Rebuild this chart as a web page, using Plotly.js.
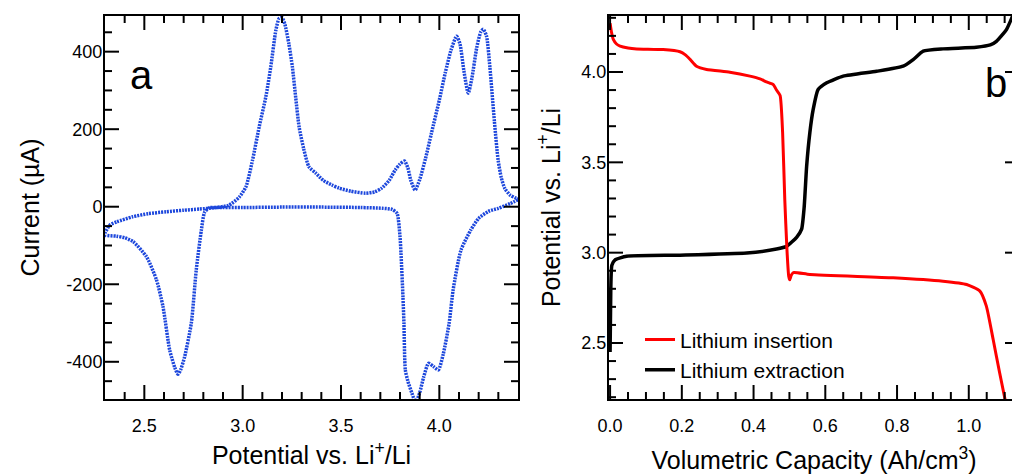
<!DOCTYPE html>
<html>
<head>
<meta charset="utf-8">
<script src="https://cdn.plot.ly/plotly-3.0.1.min.js"></script>
<style>
html, body { margin: 0; padding: 0; overflow: hidden; background: #fff; }
#chart { width: 1030px; height: 475px; }
</style>
</head>
<body>
<div id="chart"></div>
<script>
// Panel a: cyclic voltammogram (one loop: cathodic sweep 4.4 -> 2.3, then anodic 2.3 -> 4.4)
const cvPotential = [
  4.40, 4.36, 4.30, 4.25, 4.20, 4.16, 4.11, 4.07, 4.05, 4.02, 3.995, 3.97, 3.945, 3.92, 3.90, 3.88,
  3.86, 3.84, 3.827, 3.82, 3.815, 3.805, 3.80, 3.785, 3.76, 3.71, 3.60, 3.40, 3.20, 3.00, 2.90, 2.83,
  2.806, 2.79, 2.764, 2.739, 2.705, 2.685, 2.671, 2.655, 2.629, 2.595, 2.562, 2.511, 2.443, 2.40, 2.359, 2.30,
  2.30, 2.325, 2.36, 2.44, 2.52, 2.61, 2.70, 2.78, 2.85, 2.93, 2.983, 3.017, 3.05, 3.084, 3.118, 3.143,
  3.169, 3.185, 3.20, 3.215, 3.235, 3.253, 3.27, 3.287, 3.31, 3.337, 3.371, 3.41, 3.454, 3.49, 3.55, 3.624,
  3.67, 3.707, 3.745, 3.776, 3.80, 3.823, 3.84, 3.855, 3.877, 3.90, 3.93, 3.96, 4.00, 4.03, 4.06, 4.088,
  4.105, 4.125, 4.147, 4.165, 4.19, 4.21, 4.223, 4.24, 4.257, 4.28, 4.299, 4.315, 4.333, 4.36, 4.39, 4.40
];
const cvCurrent = [
  18, 8, -4, -12, -30, -60, -112, -215, -300, -380, -421, -412, -404, -440, -480, -505,
  -480, -450, -421, -300, -232, -120, -77, -17, -7, -4, -2, -1, -1, -2, -2, -3,
  -15, -60, -163, -300, -387, -420, -432, -415, -370, -258, -189, -129, -90, -80, -76, -73,
  -68, -47, -39, -26, -18, -13, -9, -6, -3, 4, 25, 52, 120, 206, 284, 361,
  456, 485, 488, 470, 420, 360, 280, 206, 150, 103, 87, 68, 56, 48, 40, 35,
  38, 48, 68, 95, 110, 118, 100, 68, 43, 70, 125, 190, 275, 345, 405, 440,
  420, 350, 293, 330, 410, 450, 458, 440, 360, 220, 120, 75, 47, 30, 22, 20
];

// Panel b: potential vs volumetric capacity
const insertionCapacity = [
  0.000, 0.004, 0.009, 0.018, 0.028, 0.050, 0.074, 0.148, 0.195, 0.210, 0.223, 0.241, 0.269, 0.334, 0.390, 0.418,
  0.436, 0.455, 0.464, 0.474, 0.481, 0.487, 0.493, 0.498, 0.501, 0.505, 0.511, 0.557, 0.789, 0.928, 0.994, 1.031,
  1.049, 1.068, 1.086, 1.105
];
const insertionPotential = [
  4.27, 4.22, 4.18, 4.155, 4.143, 4.133, 4.128, 4.124, 4.112, 4.095, 4.07, 4.032, 4.014, 3.999, 3.977, 3.962,
  3.945, 3.93, 3.90, 3.87, 3.665, 3.295, 3.02, 2.87, 2.85, 2.875, 2.89, 2.879, 2.861, 2.842, 2.824, 2.787,
  2.704, 2.519, 2.335, 2.15
];
const extractionCapacity = [
  0.000, 0.002, 0.005, 0.014, 0.046, 0.195, 0.381, 0.464, 0.492, 0.520, 0.534, 0.541, 0.548, 0.557, 0.566, 0.580,
  0.604, 0.650, 0.743, 0.817, 0.845, 0.873, 0.928, 1.021, 1.060, 1.077, 1.095, 1.105, 1.120, 1.130
];
const extractionPotential = [
  2.45, 2.80, 2.93, 2.96, 2.98, 2.986, 2.998, 3.02, 3.035, 3.085, 3.13, 3.25, 3.479, 3.665, 3.79, 3.903,
  3.94, 3.977, 4.004, 4.032, 4.069, 4.115, 4.128, 4.137, 4.15, 4.17, 4.21, 4.235, 4.30, 4.35
];

// Tick labels
const potentialTicks = [2.5, 3.0, 3.5, 4.0];
const potentialLabels = ['2.5', '3.0', '3.5', '4.0'];
const currentTicks = [-400, -200, 0, 200, 400];
const currentLabels = ['-400', '-200', '0', '200', '400'];
const capacityTicks = [0.0, 0.2, 0.4, 0.6, 0.8, 1.0];
const capacityLabels = ['0.0', '0.2', '0.4', '0.6', '0.8', '1.0'];

const FONT = 'Arial, "Liberation Sans", Helvetica, sans-serif';
const W = 1030, H = 475, MT = 16, MB = 76;
const PLOT_H = H - MT - MB;
const domains = { x: [105 / W, 518 / W], x2: [609 / W, 1019 / W] };

const ranges = {
  x: [2.3, 4.4], y: [-496, 492],
  x2: [-0.003, 1.14], y2: [2.19, 4.31]
};

// Inside, mirrored tick marks drawn as short segments in axis units
function stepValues(range, step, skipStep) {
  const out = [];
  const k0 = Math.ceil(range[0] / step - 1e-9), k1 = Math.floor(range[1] / step + 1e-9);
  for (let k = k0; k <= k1; k++) {
    const v = +(k * step).toFixed(6);
    if (v <= range[0] + 1e-9 || v >= range[1] - 1e-9) continue;
    if (skipStep && Math.abs(v / skipStep - Math.round(v / skipStep)) < 1e-6) continue;
    out.push(v);
  }
  return out;
}
const MAJOR_LEN = 14, MINOR_LEN = 7;
function tickTrace(xa, ya, major, minor, dir) {
  const rAlong = dir === 'x' ? ranges[xa] : ranges[ya];
  const rAcross = dir === 'x' ? ranges[ya] : ranges[xa];
  const pxAcross = dir === 'x' ? PLOT_H : (domains[xa][1] - domains[xa][0]) * W;
  const unitPerPx = (rAcross[1] - rAcross[0]) / pxAcross;
  const along = [], across = [];
  const add = (vals, len) => vals.forEach(v => {
    const d = len * unitPerPx;
    along.push(v, v, null, v, v, null);
    across.push(rAcross[0], rAcross[0] + d, null, rAcross[1], rAcross[1] - d, null);
  });
  add(stepValues(rAlong, major), MAJOR_LEN);
  add(stepValues(rAlong, minor, major), MINOR_LEN);
  return {
    type: 'scatter', mode: 'lines', xaxis: xa, yaxis: ya,
    x: dir === 'x' ? along : across, y: dir === 'x' ? across : along,
    line: { color: '#000', width: 2 }, connectgaps: false,
    showlegend: false, hoverinfo: 'skip'
  };
}

const traces = [
  {
    x: cvPotential, y: cvCurrent, xaxis: 'x', yaxis: 'y', type: 'scatter', mode: 'lines',
    line: { color: '#1d47dc', width: 3.5, dash: '2px,1px', shape: 'spline', smoothing: 0.6 },
    showlegend: false
  },
  {
    x: extractionCapacity, y: extractionPotential, xaxis: 'x2', yaxis: 'y2', type: 'scatter', mode: 'lines',
    name: 'Lithium extraction', legendrank: 2, line: { color: '#000000', width: 3.5, shape: 'spline', smoothing: 0.5 }
  },
  {
    x: insertionCapacity, y: insertionPotential, xaxis: 'x2', yaxis: 'y2', type: 'scatter', mode: 'lines',
    name: 'Lithium insertion', legendrank: 1, line: { color: '#ff0000', width: 3, shape: 'spline', smoothing: 0.5 }
  },
  tickTrace('x', 'y', 0.5, 0.1, 'x'),
  tickTrace('x', 'y', 200, 50, 'y'),
  tickTrace('x2', 'y2', 0.2, 0.05, 'x'),
  tickTrace('x2', 'y2', 0.5, 0.1, 'y')
];

function axisCommon(vals, labels, extra) {
  return Object.assign({
    showline: true, linewidth: 2, linecolor: '#000', mirror: true,
    tickmode: 'array', tickvals: vals, ticktext: labels, ticks: '',
    showgrid: false, zeroline: false,
    tickfont: { family: FONT, size: 18, color: '#000' }
  }, extra);
}

const layout = {
  width: W, height: H,
  margin: { l: 0, r: 0, t: MT, b: MB },
  paper_bgcolor: '#fff', plot_bgcolor: '#fff',
  font: { family: FONT, color: '#000' },
  showlegend: true,
  legend: {
    x: 640 / W, xanchor: 'left', y: 0.2 + 3 / 383, yanchor: 'top',
    bgcolor: 'rgba(0,0,0,0)', borderwidth: 0,
    font: { family: FONT, size: 21, color: '#000' },
    tracegroupgap: 0, itemwidth: 30
  },
  xaxis: axisCommon(potentialTicks, potentialLabels, {
    domain: domains.x, range: ranges.x, anchor: 'y', ticklabelstandoff: 9,
    title: { text: 'Potential vs. Li<sup>+</sup>/Li', font: { family: FONT, size: 25 }, standoff: 12 }
  }),
  yaxis: axisCommon(currentTicks, currentLabels, {
    domain: [0, 1], range: ranges.y, anchor: 'x', ticklabelstandoff: -3,
    title: { text: 'Current (µA)', font: { family: FONT, size: 25 }, standoff: 20 }
  }),
  xaxis2: axisCommon(capacityTicks, capacityLabels, {
    domain: domains.x2, range: ranges.x2, anchor: 'y2', ticklabelstandoff: 9,
    title: { text: 'Volumetric Capacity (Ah/cm<sup>3</sup>)', font: { family: FONT, size: 25 }, standoff: 17 }
  }),
  yaxis2: axisCommon(potentialTicks, potentialLabels, {
    domain: [0, 1], range: ranges.y2, anchor: 'x2', ticklabelstandoff: -3,
    title: { text: 'Potential vs. Li<sup>+</sup>/Li', font: { family: FONT, size: 25 }, standoff: 14 }
  }),
  annotations: [
    { text: 'a', xref: 'paper', yref: 'paper', x: 128 / W, y: 1 - (99 - 16) / 383, xanchor: 'left', yanchor: 'bottom',
      showarrow: false, font: { family: FONT, size: 40, color: '#000' } },
    { text: 'b', xref: 'paper', yref: 'paper', x: 983 / W, y: 1 - (107 - 16) / 383, xanchor: 'left', yanchor: 'bottom',
      showarrow: false, font: { family: FONT, size: 40, color: '#000' } }
  ]
};

Plotly.newPlot('chart', traces, layout, { displayModeBar: false, staticPlot: true });
</script>
</body>
</html>
